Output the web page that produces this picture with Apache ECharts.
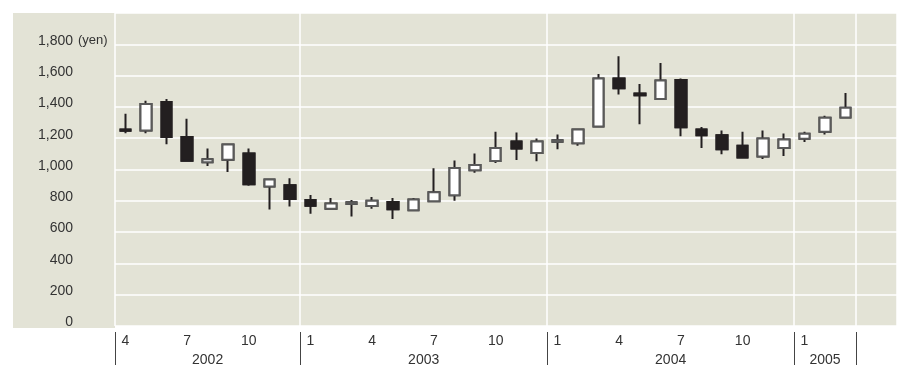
<!DOCTYPE html>
<html>
<head>
<meta charset="utf-8">
<script src="https://cdn.jsdelivr.net/npm/echarts@6/dist/echarts.min.js"></script>
<style>
  html, body { margin: 0; padding: 0; background: #ffffff; }
  #chart { width: 903px; height: 367px; }
</style>
</head>
<body>
<div id="chart"></div>
<script>
// Monthly share price candles, April 2002 – March 2005 (two trailing empty months)
const categories = [
  '2002-04','2002-05','2002-06','2002-07','2002-08','2002-09','2002-10','2002-11','2002-12',
  '2003-01','2003-02','2003-03','2003-04','2003-05','2003-06','2003-07','2003-08','2003-09','2003-10','2003-11','2003-12',
  '2004-01','2004-02','2004-03','2004-04','2004-05','2004-06','2004-07','2004-08','2004-09','2004-10','2004-11','2004-12',
  '2005-01','2005-02','2005-03','2005-04','2005-05'
];
const openVals  = [1255,1249,1432,1208,1046,1063,1103, 892, 900,
                    805, 750, 780, 767, 792, 739, 797, 835, 995,1054,1179,1105,
                   1177,1168,1274,1582,1485,1451,1572,1255,1219,1151,1083,1137,
                   1196,1242,1333];
const closeVals = [1248,1418,1208,1056,1065,1160, 906, 936, 811,
                    769, 782, 790, 801, 746, 809, 854,1010,1029,1137,1134,1179,
                   1187,1255,1582,1519,1474,1568,1270,1219,1130,1076,1198,1192,
                   1228,1331,1394];
const lowVals   = [1232,1232,1162,1052,1022, 984, 896, 744, 763,
                    718, 748, 699, 750, 684, 733, 797, 801, 979,1041,1060,1052,
                   1130,1151,1270,1479,1289,1447,1213,1137,1097,1072,1067,1086,
                   1175,1223,1333];
const highVals  = [1356,1439,1451,1325,1134,1162,1134, 938, 944,
                    837, 818, 805, 824, 818, 818,1008,1058,1103,1242,1236,1198,
                   1223,1262,1610,1724,1546,1680,1582,1272,1249,1242,1249,1230,
                   1242,1344,1489];
const monthTicks = [1, 4, 7, 10];
const yUnit = '(yen)';
const yUnitAt = 1800;

const dataCount = openVals.length;

// Year segments: first index of each year, plus the end of the data range
const yearStarts = [];
categories.slice(0, dataCount).forEach((c, i) => {
  if (i === 0 || categories[i - 1].slice(0, 4) !== c.slice(0, 4)) yearStarts.push(i);
});
const yearBounds = yearStarts.concat([dataCount]);
const yearMid = yearStarts.map((s, k) => (s + yearBounds[k + 1]) / 2);
const yearNames = yearStarts.map(s => categories[s].slice(0, 4));

const ohlc = openVals.map((o, i) => [o, closeVals[i], lowVals[i], highVals[i]]);
const bodies = openVals.map((o, i) => {
  const c = closeVals[i];
  return [o, c, Math.min(o, c), Math.max(o, c)];
});

const BG = '#e3e3d6';
const INK = '#231f20';
const TEXT = '#333333';
const FONT = '"Liberation Sans", Arial, Helvetica, sans-serif';
const LABEL_LIFT = 3.5;
const LABEL_GAP = 42;

const chart = echarts.init(document.getElementById('chart'), null, { renderer: 'canvas' });

const labelPanel = {
  id: 'panel', type: 'rect', z: -10, silent: true,
  shape: { x: 13, y: 13, width: 102, height: 315 },
  style: { fill: BG }
};

chart.setOption({
  animation: false,
  textStyle: { fontFamily: FONT },
  grid: {
    left: 115, right: 6, top: 13, bottom: 39,
    show: true, backgroundColor: BG, borderWidth: 0
  },
  graphic: { elements: [labelPanel] },
  xAxis: [{
    type: 'category',
    data: categories,
    boundaryGap: true,
    axisLine: { show: false },
    axisTick: { show: false },
    axisLabel: {
      interval: (i, v) => i < dataCount && monthTicks.includes(+v.slice(5)),
      formatter: v => String(+v.slice(5)),
      margin: 8,
      fontSize: 14,
      color: TEXT,
      fontFamily: FONT
    },
    splitLine: {
      show: true,
      interval: (i) => yearBounds.includes(i),
      lineStyle: { color: '#ffffff', width: 1.5 }
    }
  }, {
    type: 'value',
    gridIndex: 0,
    position: 'bottom',
    offset: 6,
    min: 0,
    max: categories.length,
    axisLine: { show: false },
    splitLine: { show: false },
    axisTick: {
      show: true,
      customValues: yearBounds,
      length: 33,
      lineStyle: { color: '#444444', width: 1 }
    },
    axisLabel: {
      customValues: yearMid,
      formatter: v => yearNames[yearMid.indexOf(v)] || '',
      margin: 21,
      fontSize: 14,
      color: TEXT,
      fontFamily: FONT
    }
  }],
  yAxis: {
    type: 'value',
    min: 0,
    max: 2000,
    interval: 200,
    axisLine: { show: false },
    axisTick: { show: false },
    splitLine: { lineStyle: { color: '#ffffff', width: 1.5 } },
    axisLabel: {
      align: 'right',
      margin: LABEL_GAP,
      padding: [0, 0, LABEL_LIFT * 2, 0],
      formatter: v => (v >= 2000 ? '' : '{n|' + v.toLocaleString('en-US') + '}'),
      rich: {
        n: { fontSize: 14, color: TEXT, fontFamily: FONT }
      }
    }
  },
  series: [{
    name: 'range',
    type: 'candlestick',
    xAxisIndex: 0,
    barWidth: 11,
    data: ohlc,
    itemStyle: {
      color: '#ffffff', color0: INK,
      borderColor: INK, borderColor0: INK,
      borderWidth: 2
    }
  }, {
    name: 'body',
    type: 'candlestick',
    xAxisIndex: 0,
    barWidth: 11,
    data: bodies,
    z: 3,
    itemStyle: {
      color: '#ffffff', color0: INK,
      borderColor: '#5a5a5a', borderColor0: INK,
      borderWidth: 2
    }
  }]
});

// Unit note placed just after the top tick label
const gridLeft = chart.getModel().getComponent('grid').coordinateSystem.getRect().x;
const unitY = chart.convertToPixel({ yAxisIndex: 0 }, yUnitAt) - LABEL_LIFT;
chart.setOption({
  graphic: {
    elements: [labelPanel, {
      id: 'unit', type: 'text', silent: true,
      x: gridLeft - LABEL_GAP + 5, y: unitY,
      style: {
        text: yUnit, fill: TEXT, fontSize: 13, fontFamily: FONT,
        align: 'left', verticalAlign: 'middle'
      }
    }]
  }
});
</script>
</body>
</html>
